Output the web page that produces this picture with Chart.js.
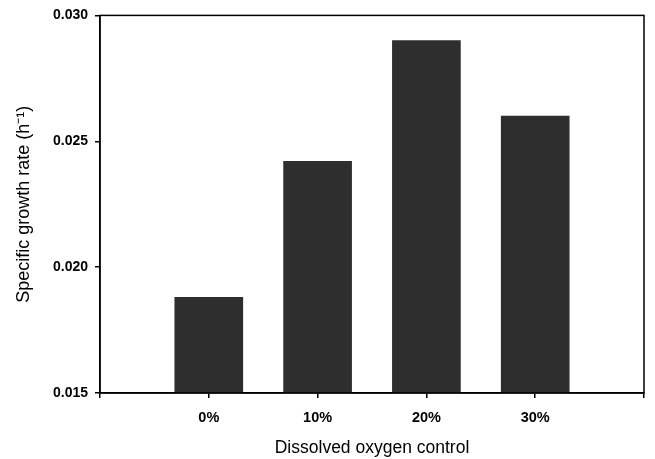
<!DOCTYPE html>
<html>
<head>
<meta charset="utf-8">
<script src="https://cdn.jsdelivr.net/npm/chart.js@4.4.0/dist/chart.umd.min.js"></script>
<style>
  html, body { margin: 0; padding: 0; background: #fff; }
  #wrap { width: 655px; height: 459px; }
</style>
</head>
<body>
<div id="wrap"><canvas id="growthChart" width="655" height="459"></canvas></div>
<script>
const categories = ["0%", "10%", "20%", "30%"];
const growthRate = [0.0188, 0.0242, 0.0290, 0.0260];
const yTicks = [0.015, 0.020, 0.025, 0.030];

// blank slots either side so the bars sit inside the frame like the original
const labels = ["", ...categories, ""];
const values = [null, ...growthRate, null];

const frame = {
  id: "frame",
  afterDraw(chart) {
    const { ctx, chartArea: a } = chart;
    ctx.save();
    ctx.strokeStyle = "#000";
    ctx.lineWidth = 1.5;
    ctx.strokeRect(a.left, a.top, a.right - a.left, a.bottom - a.top);
    ctx.restore();
  }
};

const font = "'Liberation Sans', Arial, sans-serif";

new Chart(document.getElementById("growthChart"), {
  type: "bar",
  data: {
    labels: labels,
    datasets: [{
      data: values,
      backgroundColor: "#2e2e2e",
      borderWidth: 0,
      barThickness: 68
    }]
  },
  options: {
    responsive: false,
    animation: false,
    layout: { padding: { top: 12, right: 9, left: 0, bottom: 0 } },
    plugins: { legend: { display: false }, tooltip: { enabled: false } },
    scales: {
      x: {
        offset: false,
        afterFit: s => { s.height = 66; },
        grid: { display: true, offset: false, drawOnChartArea: false, drawTicks: true, tickLength: 5, color: "#000", lineWidth: 1.5 },
        border: { display: true, color: "#000", width: 1.5 },
        ticks: { color: "#000", padding: 11, maxRotation: 0, autoSkip: false, font: { family: font, size: 14.5, weight: "bold" } },
        title: { display: true, text: "Dissolved oxygen control", color: "#000", padding: { top: 0, bottom: 0 }, font: { family: font, size: 17.5 } }
      },
      y: {
        min: 0.015,
        max: 0.030,
        afterFit: s => { s.width = 100; },
        afterBuildTicks: s => { s.ticks = yTicks.map(v => ({ value: v })); },
        grid: { display: true, drawOnChartArea: false, drawTicks: true, tickLength: 5, color: "#000", lineWidth: 1.5 },
        border: { display: true, color: "#000", width: 1.5 },
        ticks: { color: "#000", padding: 7, callback: v => v.toFixed(3), font: { family: font, size: 14, weight: "bold" } },
        title: { display: true, text: "Specific growth rate (h\u207B\u00B9)", color: "#000", padding: { top: 13, bottom: 0 }, font: { family: font, size: 18 } }
      }
    }
  },
  plugins: [frame]
});
</script>
</body>
</html>
